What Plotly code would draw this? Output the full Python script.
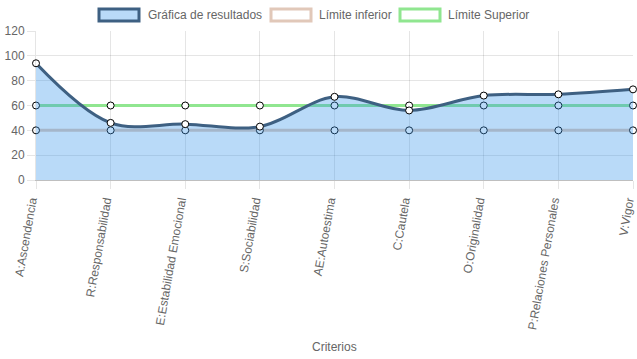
import plotly.graph_objects as go

categorias = ["A:Ascendencia", "R:Responsabilidad", "E:Estabilidad Emocional", "S:Sociabilidad",
              "AE:Autoestima", "C:Cautela", "O:Originalidad", "P:Relaciones Personales", "V:Vigor"]
resultados = [94, 46, 45, 43, 67, 56, 68, 69, 73]
limite_inferior = [40, 40, 40, 40, 40, 40, 40, 40, 40]
limite_superior = [60, 60, 60, 60, 60, 60, 60, 60, 60]
y_ticks = [0, 20, 40, 60, 80, 100, 120]

FONT = "Liberation Sans, Arial, Helvetica, sans-serif"
GRAY = "#666666"
marker = dict(size=7, color="white", line=dict(color="black", width=1))

fig = go.Figure()
fig.add_trace(go.Scatter(x=categorias, y=limite_inferior, name="Límite inferior", mode="lines+markers",
                         line=dict(color="rgb(225,200,185)", width=3), marker=marker,
                         cliponaxis=False, showlegend=False))
fig.add_trace(go.Scatter(x=categorias, y=limite_superior, name="Límite Superior", mode="lines+markers",
                         line=dict(color="rgb(144,230,144)", width=3), marker=marker,
                         cliponaxis=False, showlegend=False))
# results drawn on an overlaid subplot so that its translucent fill covers the limit lines
fig.add_trace(go.Scatter(x=categorias, y=resultados, name="Gráfica de resultados", mode="lines+markers",
                         line=dict(color="rgb(62,96,130)", width=3, shape="spline", smoothing=1.0),
                         fill="tozeroy", fillcolor="rgba(54,150,235,0.35)",
                         marker=marker, cliponaxis=False, showlegend=False,
                         xaxis="x2", yaxis="y2"))

# manual legend (Chart.js style boxes)
legend_items = [
    (99, 139, 146, "Gráfica de resultados", "rgba(54,150,235,0.35)", "rgb(62,96,130)"),
    (271, 311, 317, "Límite inferior", "white", "rgb(225,200,185)"),
    (400, 440, 446, "Límite Superior", "white", "rgb(144,230,144)"),
]
W, H = 637, 359
L, R, T, B = 36, 4, 31, 179
pw, ph = W - L - R, H - T - B
def px(x):
    return (x - L) / pw
def py(y):
    return (H - B - y) / ph
shapes = []
annotations = []
for x0, x1, tx, label, fc, lc in legend_items:
    shapes.append(dict(type="rect", xref="paper", yref="paper", x0=px(x0), x1=px(x1), y0=py(21), y1=py(9),
                       fillcolor=fc, line=dict(color=lc, width=3)))
    annotations.append(dict(xref="paper", yref="paper", x=px(tx), y=py(15), text=label, showarrow=False,
                            xanchor="left", yanchor="middle", font=dict(family=FONT, size=12, color=GRAY)))
annotations.append(dict(xref="paper", yref="paper", x=0.5, y=py(347), text="Criterios", showarrow=False,
                        xanchor="center", yanchor="middle", font=dict(family=FONT, size=12, color=GRAY)))

xr = [0, len(categorias) - 1]
fig.update_layout(
    width=W, height=H, margin=dict(l=L, r=R, t=T, b=B),
    paper_bgcolor="white", plot_bgcolor="white",
    font=dict(family=FONT, size=12, color=GRAY),
    shapes=shapes, annotations=annotations, showlegend=False,
    xaxis=dict(type="category", range=xr, tickangle=-80, ticklabelshift=-5,
               showgrid=True, gridcolor="rgba(0,0,0,0.1)", gridwidth=1,
               ticks="outside", ticklen=8, tickcolor="rgba(0,0,0,0.1)",
               showline=True, linecolor="rgba(0,0,0,0.25)", linewidth=1,
               tickfont=dict(family=FONT, size=12, color=GRAY), automargin=False),
    yaxis=dict(range=[0, 120], tickvals=y_ticks, showgrid=True, gridcolor="rgba(0,0,0,0.1)",
               ticks="outside", ticklen=8, tickcolor="rgba(0,0,0,0.1)", zeroline=False,
               showline=True, linecolor="rgba(0,0,0,0.1)",
               tickfont=dict(family=FONT, size=12, color=GRAY), automargin=False),
    xaxis2=dict(type="category", range=xr, overlaying="x", visible=False, showgrid=False),
    yaxis2=dict(range=[0, 120], overlaying="y", visible=False, showgrid=False),
)

fig.write_html("out.html", config={"displayModeBar": False},
               post_script="document.body.style.margin='0';document.body.style.overflow='hidden';")
